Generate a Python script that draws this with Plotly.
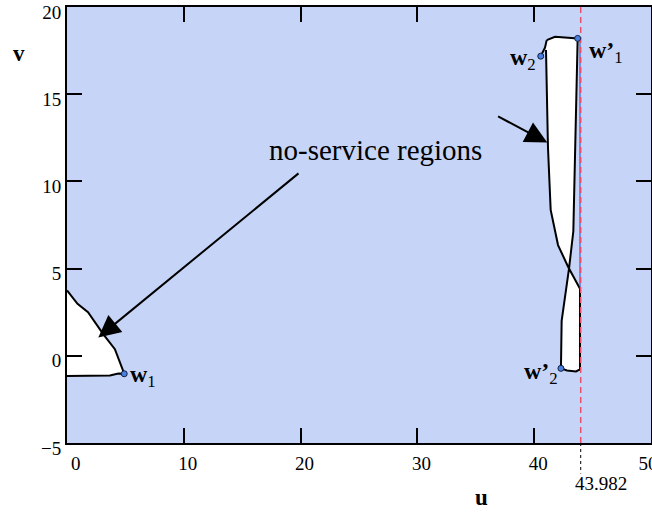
import plotly.graph_objects as go

NB = "\u00a0"

# axis ticks
u_ticks = [0, 10, 20, 30, 40, 50]
u_tick_text = [NB * 2 + "0", "10", "20", "30", "40", "50" + NB * 3]
v_ticks = [-5, 0, 5, 10, 15, 20]
v_tick_text = ["\u22125", "0", "5", "10", "15", "20"]

# first no-service region (near the origin)
region1_u = [0.0, 0.9, 1.8, 3.1, 4.1, 4.9, 4.39, 3.68, 0.0]
region1_v = [3.75, 2.98, 2.5, 1.24, 0.38, -1.03, -1.01, -1.13, -1.16]

# second no-service region (narrow strip near u = 43)
region2_u = [41.07, 41.78, 43.72, 43.49, 43.35, 42.98, 42.35, 42.29, 42.81, 43.58,
             43.92, 43.92, 42.89, 42.04, 41.41, 41.18, 41.01]
region2_v = [18.10, 18.29, 18.20, 11.94, 7.14, 5.00, 2.01, -0.72, -0.84, -0.90,
             -0.78, 3.84, 5.12, 6.35, 8.37, 11.94, 17.54]

# short boundary piece ending at w2
stub_u = [40.56, 40.92, 41.07]
stub_v = [17.18, 17.67, 18.10]

# boundary line along the right edge of the strip
edge_u = [43.92, 43.92]
edge_v = [18.2, 3.84]

# corner points
pts_u = [4.9, 40.56, 43.72, 42.29]
pts_v = [-1.03, 17.18, 18.2, -0.72]

# vertical limit
limit_u = 43.982
limit_label = "43.982"

# arrow annotations: (tail_u, tail_v, head_u, head_v)
arrows = [(19.95, 10.53, 2.68, 1.05), (36.78, 13.77, 41.12, 12.23)]

SERIF = "Liberation Serif, Times New Roman, serif"

fig = go.Figure()

fig.add_trace(go.Scatter(x=region1_u, y=region1_v, mode="lines", fill="toself",
                         fillcolor="white", line=dict(color="black", width=2),
                         hoverinfo="skip"))
fig.add_trace(go.Scatter(x=region2_u, y=region2_v, mode="lines", fill="toself",
                         fillcolor="white", line=dict(color="black", width=2),
                         hoverinfo="skip"))
fig.add_trace(go.Scatter(x=stub_u, y=stub_v, mode="lines",
                         line=dict(color="black", width=2), hoverinfo="skip"))
fig.add_trace(go.Scatter(x=edge_u, y=edge_v, mode="lines",
                         line=dict(color="#2040e0", width=1), hoverinfo="skip"))
fig.add_trace(go.Scatter(x=[limit_u, limit_u], y=[v_ticks[0], v_ticks[-1]], mode="lines",
                         line=dict(color="#e8506a", width=1.5, dash="6px,4px"),
                         hoverinfo="skip"))
fig.add_trace(go.Scatter(x=pts_u, y=pts_v, mode="markers",
                         marker=dict(size=6, color="#4a7fe0",
                                     line=dict(color="#102040", width=1)),
                         hoverinfo="skip"))

# dotted drop from the axis to the limit label
fig.add_shape(type="line", xref="x", yref="paper", x0=limit_u, x1=limit_u,
              y0=0, y1=-0.07, line=dict(color="black", width=1, dash="dot"))

ann = []
for tu, tv, hu, hv in arrows:
    ann.append(dict(x=hu, y=hv, ax=tu, ay=tv, xref="x", yref="y", axref="x", ayref="y",
                    text="", showarrow=True, arrowhead=2, arrowsize=2.2,
                    arrowwidth=2, arrowcolor="black"))

ann.append(dict(x=26.37, y=11.82, xref="x", yref="y", xanchor="center", yanchor="middle",
                text="no-service regions", showarrow=False,
                font=dict(family=SERIF, size=29, color="black")))

lab_font = dict(family=SERIF, size=24, color="black")
ann.append(dict(x=5.2, y=-1.15, xref="x", yref="y", xanchor="left", yanchor="middle",
                text="<b>w</b><sub>1</sub>", showarrow=False, font=lab_font))
ann.append(dict(x=40.3, y=17.0, xref="x", yref="y", xanchor="right", yanchor="middle",
                text="<b>w</b><sub>2</sub>", showarrow=False, font=lab_font))
ann.append(dict(x=44.55, y=17.4, xref="x", yref="y", xanchor="left", yanchor="middle",
                text="<b>w\u2019</b><sub>1</sub>", showarrow=False, font=lab_font))
ann.append(dict(x=42.2, y=-1.0, xref="x", yref="y", xanchor="right", yanchor="middle",
                text="<b>w\u2019</b><sub>2</sub>", showarrow=False, font=lab_font))

ann.append(dict(x=limit_u, y=-0.092, xref="x", yref="paper", xshift=20,
                xanchor="center", yanchor="middle",
                text=limit_label, showarrow=False,
                font=dict(family=SERIF, size=19, color="black")))

ann.append(dict(x=0.709, y=-0.126, xref="paper", yref="paper", text="<b>u</b>",
                xanchor="center", yanchor="middle",
                showarrow=False, font=dict(family=SERIF, size=23, color="black")))
ann.append(dict(x=-0.083, y=0.894, xref="paper", yref="paper", text="<b>v</b>",
                xanchor="center", yanchor="middle",
                showarrow=False, font=dict(family=SERIF, size=23, color="black")))

fig.update_layout(annotations=ann)

axis_common = dict(showgrid=False, zeroline=False, showline=True, linecolor="black",
                   linewidth=2, mirror="ticks", ticks="inside", ticklen=15,
                   tickwidth=2, tickcolor="black", ticklabeloverflow="allow",
                   automargin=False,
                   tickfont=dict(family=SERIF, size=19, color="black"))

fig.update_xaxes(range=[0, 50], tickvals=u_ticks, ticktext=u_tick_text,
                 ticklabelshift=4, ticklabelstandoff=2, **axis_common)
fig.update_yaxes(range=[-5, 20], tickvals=v_ticks, ticktext=v_tick_text,
                 ticklabelshift=5, ticklabelstandoff=0, **axis_common)

fig.update_layout(width=652, height=512, showlegend=False,
                  margin=dict(l=67, r=1, t=7, b=69),
                  plot_bgcolor="#c6d5f7", paper_bgcolor="white")

fig.write_html("out.html")
